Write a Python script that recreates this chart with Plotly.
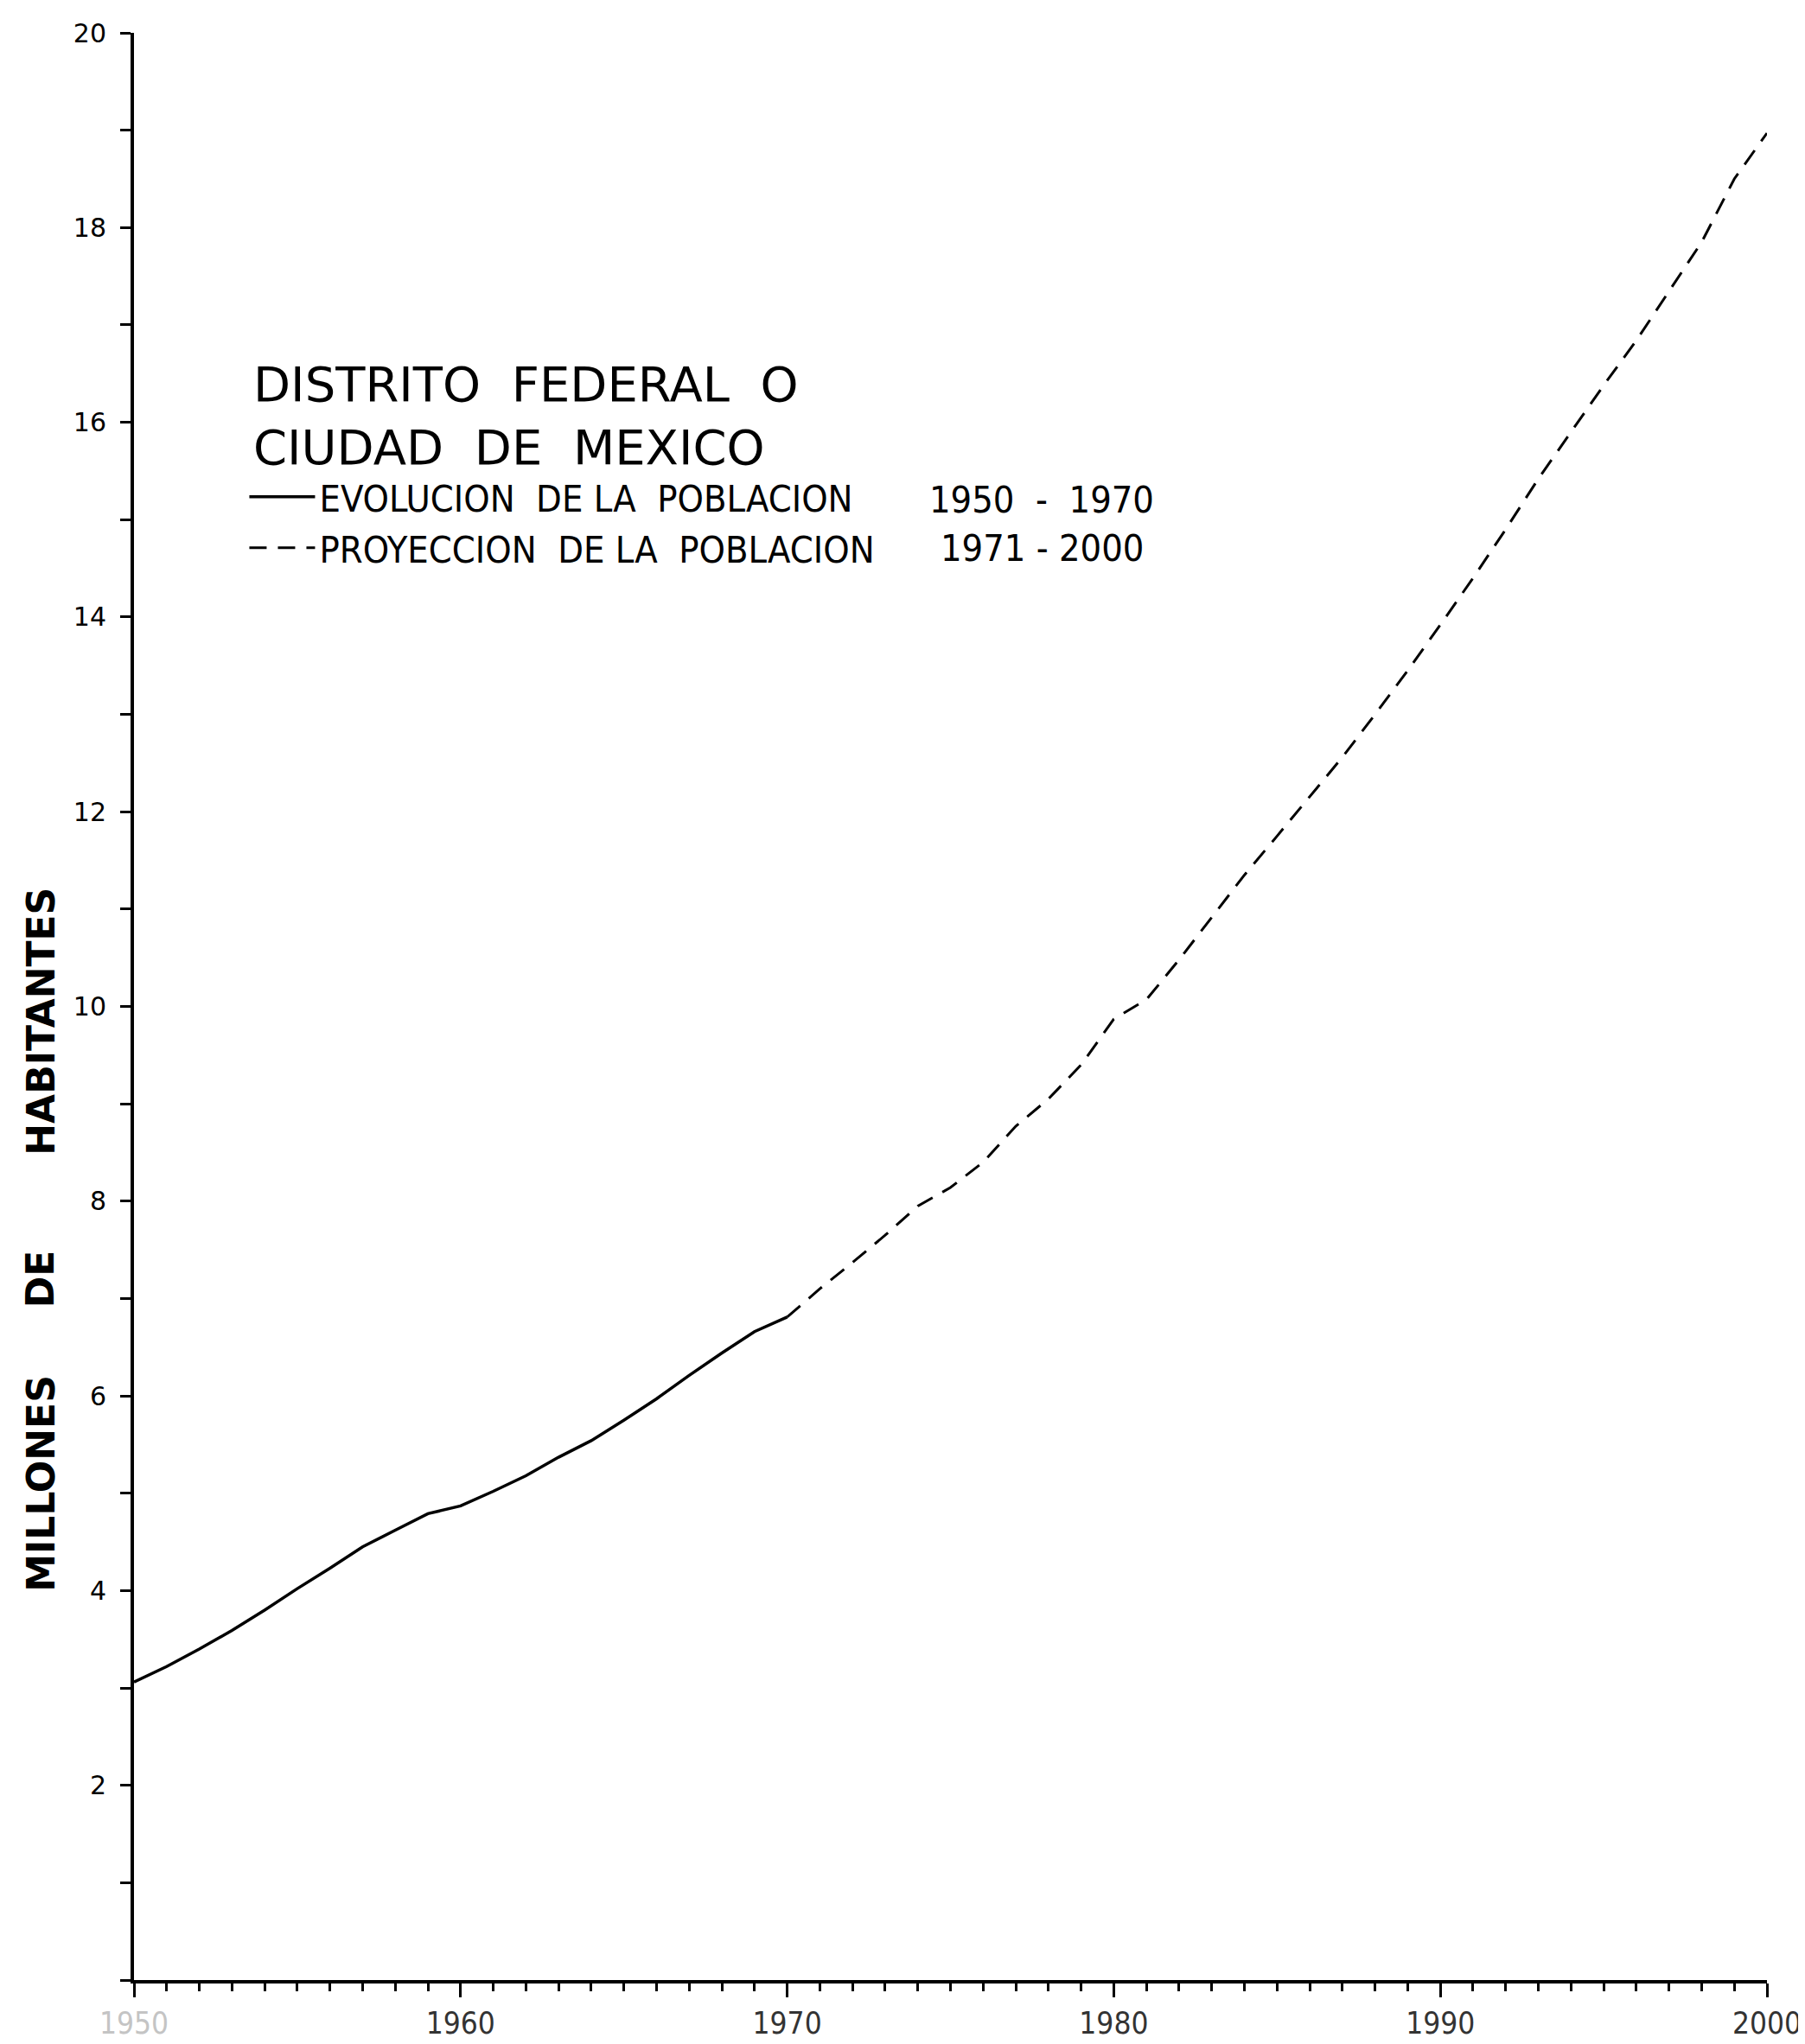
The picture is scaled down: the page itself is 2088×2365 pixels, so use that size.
import plotly.graph_objects as go

# ---- data (millions of inhabitants) ----
years_hist = list(range(1950, 1971))
pop_hist = [3.06, 3.22, 3.40, 3.59, 3.80, 4.02, 4.23, 4.45, 4.62, 4.79, 4.87,
            5.02, 5.18, 5.37, 5.54, 5.75, 5.97, 6.21, 6.44, 6.66, 6.81]

years_proj = list(range(1970, 2001))
pop_proj = [6.81, 7.10, 7.37, 7.65, 7.95, 8.14, 8.40, 8.77, 9.05, 9.40, 9.87,
            10.07, 10.48, 10.92, 11.35, 11.75, 12.16, 12.56, 13.00, 13.45, 13.92,
            14.40, 14.90, 15.42, 15.90, 16.38, 16.84, 17.35, 17.85, 18.50, 18.97]

x_tickvals = [1950, 1960, 1970, 1980, 1990, 2000]
x_ticktext = ["<span style='color:#c4c4c4'>1950</span>", "1960", "1970", "1980", "1990", "2000"]
y_tickvals = [2, 4, 6, 8, 10, 12, 14, 16, 18, 20]
y_ticktext = ["2", "4", "6", "8", "10", "12", "14", "16", "18", "20"]

name_hist = "EVOLUCION  DE LA  POBLACION"
name_proj = "PROYECCION  DE LA  POBLACION"
range_hist = "1950  -  1970"
range_proj = "1971 - 2000"
title_text = "DISTRITO  FEDERAL  O<br>CIUDAD  DE  MEXICO"
ytitle_words = ["MILLONES", "DE", "HABITANTES"]

COND = "DejaVu Sans Condensed, Liberation Sans Narrow, Arial Narrow, DejaVu Sans, sans-serif"
SANS = "DejaVu Sans, Verdana, sans-serif"

fig = go.Figure()
fig.add_trace(go.Scatter(
    x=years_hist, y=pop_hist, mode="lines", name=name_hist,
    line=dict(color="black", width=3.5), hoverinfo="skip"))
fig.add_trace(go.Scatter(
    x=years_proj, y=pop_proj, mode="lines", name=name_proj,
    line=dict(color="black", width=3, dash="20px,13px"), hoverinfo="skip"))

fig.update_layout(
    width=2088, height=2365, autosize=False,
    margin=dict(l=147, r=43, t=23, b=67),
    paper_bgcolor="white", plot_bgcolor="white",
    showlegend=True,
    legend=dict(x=0.068, y=0.777, xanchor="left", yanchor="top",
                bgcolor="rgba(0,0,0,0)", itemwidth=76,
                font=dict(family=COND, size=43, color="black"),
                tracegroupgap=0),
)

fig.update_xaxes(
    range=[1950, 2000], showgrid=False, zeroline=False,
    showline=True, linecolor="black", linewidth=4,
    ticks="outside", ticklen=16, tickwidth=3, tickcolor="black",
    tickvals=x_tickvals, ticktext=x_ticktext, ticklabeloverflow="allow",
    tickfont=dict(family=COND, size=35, color="#333333"),
    minor=dict(ticks="outside", dtick=1, ticklen=9, tickwidth=2.5,
               tickcolor="black", showgrid=False),
)
fig.update_yaxes(
    range=[0, 20], showgrid=False, zeroline=False,
    showline=True, linecolor="black", linewidth=4,
    ticks="outside", ticklen=12, tickwidth=2.5, tickcolor="black",
    tickvals=y_tickvals, ticktext=y_ticktext, ticklabeloverflow="allow",
    tickfont=dict(family=SANS, size=30, color="black"),
    ticklabelstandoff=10,
    minor=dict(ticks="outside", dtick=1, ticklen=12, tickwidth=2.5,
               tickcolor="black", showgrid=False),
)

# title (two lines, one text block)
fig.add_annotation(text=title_text, xref="paper", yref="y", x=0.072, y=15.44,
                   xanchor="left", yanchor="bottom", align="left", showarrow=False,
                   font=dict(family=SANS, size=56, color="black"))

# year ranges next to legend entries
fig.add_annotation(text=range_hist, xref="paper", yref="y", x=0.556, y=15.21,
                   xanchor="center", yanchor="middle", showarrow=False,
                   font=dict(family=COND, size=43, color="black"))
fig.add_annotation(text=range_proj, xref="paper", yref="y", x=0.556, y=14.71,
                   xanchor="center", yanchor="middle", showarrow=False,
                   font=dict(family=COND, size=43, color="black"))

# rotated y-axis title, words spread out
for word, yv in zip(ytitle_words, [5.1, 7.2, 9.85]):
    fig.add_annotation(text=word, xref="paper", yref="y", x=-0.057, y=yv,
                       xanchor="center", yanchor="middle", textangle=-90,
                       showarrow=False,
                       font=dict(family=SANS, size=44, color="black", weight="bold"))

fig.write_html("out.html", config={"displayModeBar": False})
